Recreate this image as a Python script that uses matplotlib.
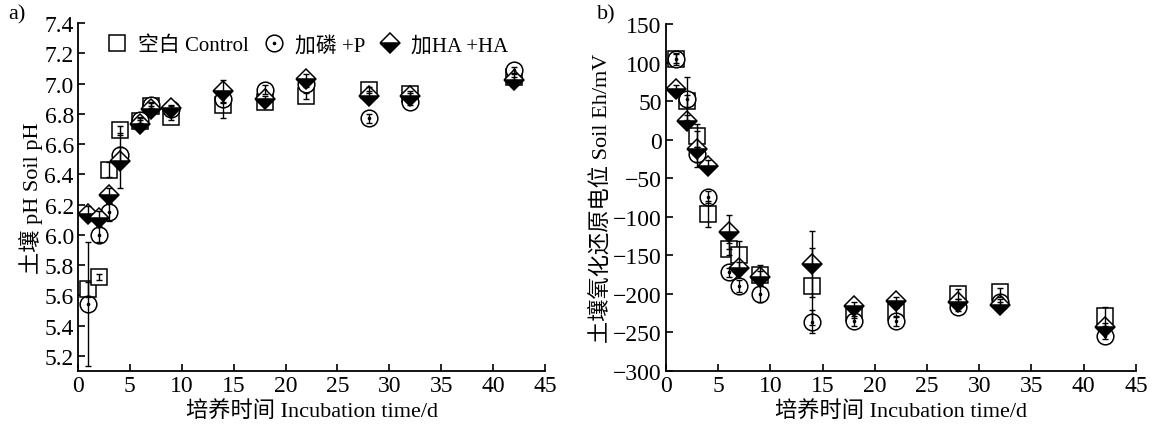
import numpy as np
import matplotlib; matplotlib.use('Agg')
import matplotlib.pyplot as plt
from matplotlib.lines import Line2D
from matplotlib.legend_handler import HandlerTuple

plt.rcParams['font.family'] = ['Liberation Serif', 'Noto Sans CJK SC']
plt.rcParams['axes.unicode_minus'] = True

days = [1, 2, 3, 4, 6, 7, 9, 14, 18, 22, 28, 32, 42]
names = ['空白 Control', '加磷 +P', '加HA +HA']

# soil pH
ph_ck = [5.64, 5.72, 6.43, 6.69, 6.75, 6.85, 6.78, 6.86, 6.88, 6.92, 6.96, 6.93, 7.04]
ph_p = [5.54, 6.00, 6.15, 6.53, 6.76, 6.86, 6.83, 6.90, 6.96, 7.00, 6.77, 6.88, 7.09]
ph_ha = [6.14, 6.11, 6.26, 6.49, 6.73, 6.83, 6.84, 6.95, 6.90, 7.03, 6.92, 6.92, 7.02]
ph_ck_e = [0.05, 0.02, 0.05, 0.03, 0.02, 0.02, 0.02, 0.09, 0.02, 0.02, 0.02, 0.02, 0.02]
ph_p_e = [0.41, 0.05, 0.06, 0.05, 0.02, 0.02, 0.02, 0.03, 0.03, 0.02, 0.03, 0.02, 0.02]
ph_ha_e = [0.05, 0.05, 0.05, 0.18, 0.03, 0.02, 0.02, 0.07, 0.02, 0.03, 0.03, 0.02, 0.02]

# soil Eh (mV)
eh_ck = [105, 50, 5, -96, -142, -150, -175, -190, -225, -224, -200, -198, -229]
eh_p = [105, 53, -19, -74, -172, -190, -200, -236, -235, -235, -217, -211, -254]
eh_ha = [66, 24, -12, -34, -120, -166, -178, -161, -216, -209, -211, -215, -243]
eh_ck_e = [6, 8, 15, 17, 8, 19, 13, 50, 6, 6, 6, 6, 12]
eh_p_e = [8, 28, 10, 8, 6, 8, 10, 15, 6, 6, 5, 5, 5]
eh_ha_e = [5, 8, 23, 8, 22, 8, 8, 43, 5, 5, 5, 5, 5]

sq = dict(marker='s', ms=11, mfc='white', mec='black', mew=1.1, ls='none')
ci = dict(marker='o', ms=12, mfc='white', mec='black', mew=1.1, ls='none')
dot = dict(marker='o', ms=1.6, mfc='black', mec='black', ls='none')
di = dict(marker='D', ms=10.5, fillstyle='bottom', mfc='black', mfcalt='white', mec='black', mew=1.1, ls='none')

fig = plt.figure(figsize=(11.52, 4.27), dpi=100)
axA = fig.add_axes([0.0677, 0.1288, 0.4054, 0.815])
axB = fig.add_axes([0.578, 0.1288, 0.408, 0.8126])

def panel(ax, ck, p, ha, ck_e, p_e, ha_e):
    ax.plot(days, ck, zorder=3, **sq)
    ax.plot(days, p, zorder=4, **ci)
    ax.plot(days, p, zorder=4.5, **dot)
    ax.plot(days, ha, zorder=5, **di)
    for y, e in [(ck, ck_e), (p, p_e), (ha, ha_e)]:
        ax.errorbar(days, y, yerr=e, fmt='none', ecolor='black', elinewidth=1.0, capsize=2.5, capthick=1.0, zorder=6)
    ax.set_xlim(0, 45); ax.set_xticks(range(0, 46, 5))
    for s in ['top', 'right']: ax.spines[s].set_visible(False)
    for s in ['left', 'bottom']: ax.spines[s].set_linewidth(1.3)
    ax.tick_params(direction='in', length=5, width=1.2, labelsize=17, pad=3)
    ax.set_xlabel('培养时间 Incubation time/d', fontsize=16, labelpad=3)

panel(axA, ph_ck, ph_p, ph_ha, ph_ck_e, ph_p_e, ph_ha_e)
axA.set_ylim(5.1, 7.4); axA.set_yticks(np.arange(5.2, 7.41, 0.2))
axA.set_yticklabels([f"{v:.1f}" for v in np.arange(5.2, 7.41, 0.2)])
axA.set_ylabel('土壤 pH Soil pH', fontsize=16, labelpad=1)

panel(axB, eh_ck, eh_p, eh_ha, eh_ck_e, eh_p_e, eh_ha_e)
axB.set_ylim(-300, 150); axB.set_yticks(range(-300, 151, 50))
axB.set_ylabel('土壤氧化还原电位 Soil Eh/mV', fontsize=16, labelpad=1)

handles = [Line2D([], [], **sq),
           (Line2D([], [], **ci), Line2D([], [], **dot)),
           Line2D([], [], **di)]
axA.legend(handles, names, loc='upper left', bbox_to_anchor=(0.035, 1.0), ncol=3, frameon=False,
           fontsize=15, handlelength=1.0, handletextpad=0.5, columnspacing=0.7, borderaxespad=0.2,
           handler_map={tuple: HandlerTuple(ndivide=1)})

fig.text(0.007, 0.965, 'a)', fontsize=16, va='center')
fig.text(0.518, 0.965, 'b)', fontsize=16, va='center')

plt.savefig('out.png', dpi=100)
